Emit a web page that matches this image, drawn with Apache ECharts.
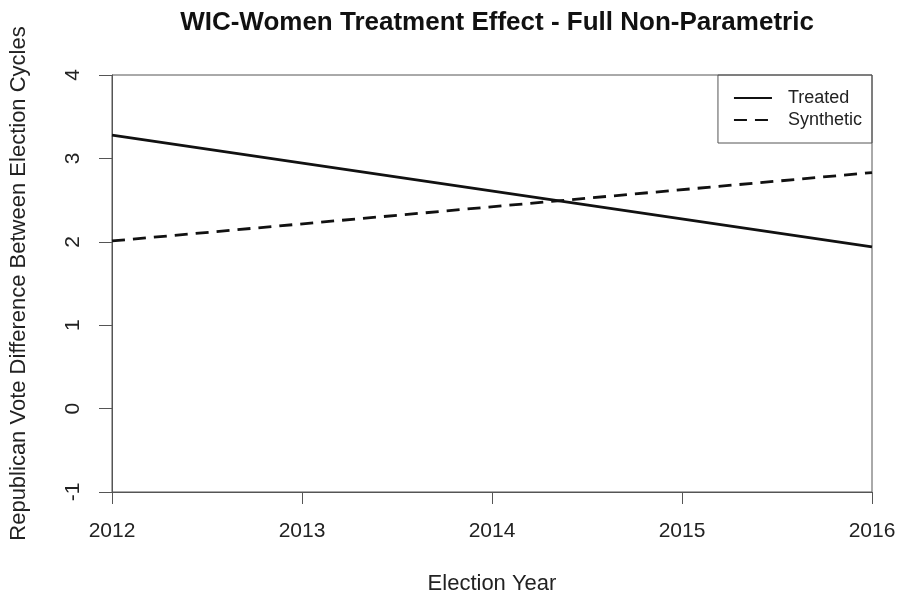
<!DOCTYPE html>
<html>
<head>
<meta charset="utf-8">
<script src="https://cdn.jsdelivr.net/npm/echarts@6/dist/echarts.min.js"></script>
<style>html,body{margin:0;padding:0;background:#fff;}#chart{width:899px;height:600px;}</style>
</head>
<body>
<div id="chart"></div>
<script>
const years = [2012, 2016];
const treated = [3.28, 1.94];
const synthetic = [2.01, 2.83];
const xTicks = [2012, 2013, 2014, 2015, 2016];
const yTicks = [-1, 0, 1, 2, 3, 4];

const chart = echarts.init(document.getElementById('chart'), null, {renderer: 'canvas'});
const font = 'Liberation Sans, Arial, sans-serif';
const axisColor = '#555';
const textColor = '#222';
chart.setOption({
  animation: false,
  backgroundColor: '#fff',
  title: {
    text: 'WIC-Women Treatment Effect - Full Non-Parametric',
    left: 492, top: 5, textAlign: 'center',
    textStyle: {fontFamily: font, fontSize: 26, fontWeight: 'bold', color: '#111'}
  },
  grid: {left: 112, right: 27, top: 75, bottom: 108, show: true, borderColor: axisColor, borderWidth: 1, backgroundColor: 'transparent'},
  legend: {
    orient: 'vertical', right: 27, top: 75,
    data: ['Treated', 'Synthetic'],
    borderColor: axisColor, borderWidth: 1, borderRadius: 0,
    padding: [14, 10, 14, 15], itemGap: 4, itemWidth: 38, itemHeight: 14,
    itemStyle: {color: 'transparent', borderColor: 'transparent', borderWidth: 0},
    textStyle: {fontFamily: font, fontSize: 18, lineHeight: 18, color: textColor, padding: [0, 0, 0, 11]}
  },
  xAxis: {
    type: 'value', min: xTicks[0], max: xTicks[xTicks.length - 1], interval: 1,
    name: 'Election Year', nameLocation: 'middle', nameGap: 81,
    nameTextStyle: {fontFamily: font, fontSize: 22, color: textColor},
    axisLine: {show: true, onZero: false, lineStyle: {color: axisColor, width: 1}},
    axisTick: {show: true, inside: false, length: 12, lineStyle: {color: axisColor}},
    axisLabel: {fontFamily: font, fontSize: 21, color: textColor, margin: 29, formatter: v => String(v)},
    splitLine: {show: false}
  },
  yAxis: {
    type: 'value', min: yTicks[0], max: yTicks[yTicks.length - 1], interval: 1,
    name: 'Republican Vote Difference Between Election Cycles', nameLocation: 'middle', nameGap: 82, nameRotate: 90,
    nameTextStyle: {fontFamily: font, fontSize: 22, color: textColor},
    axisLine: {show: true, onZero: false, lineStyle: {color: axisColor, width: 1}},
    axisTick: {show: true, inside: false, length: 13, lineStyle: {color: axisColor}},
    axisLabel: {fontFamily: font, fontSize: 21, color: textColor, margin: 28, rotate: 90},
    splitLine: {show: false}
  },
  series: [
    {name: 'Treated', type: 'line', data: years.map((y, i) => [y, treated[i]]), showSymbol: false, symbol: 'none',
     lineStyle: {color: '#111', width: 2.8, type: 'solid'}, itemStyle: {color: '#111'}},
    {name: 'Synthetic', type: 'line', data: years.map((y, i) => [y, synthetic[i]]), showSymbol: false, symbol: 'none',
     lineStyle: {color: '#111', width: 2.8, type: [13, 8]}, itemStyle: {color: '#111'}}
  ]
});
</script>
</body>
</html>
